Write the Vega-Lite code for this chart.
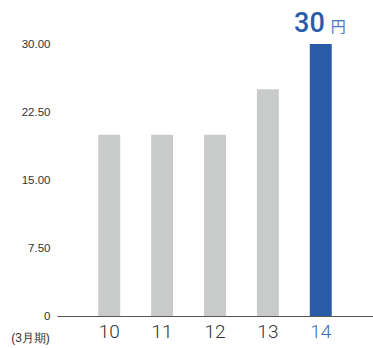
{
  "$schema": "https://vega.github.io/schema/vega-lite/v6.json",
  "width": 316,
  "height": 272,
  "autosize": {"type": "none"},
  "padding": {"left": 57, "top": 44, "right": 0, "bottom": 32},
  "background": "white",
  "config": {"view": {"stroke": null}, "font": "Liberation Sans"},
  "data": {"values": [
    {"year": "10", "value": 20, "hl": "no"},
    {"year": "11", "value": 20, "hl": "no"},
    {"year": "12", "value": 20, "hl": "no"},
    {"year": "13", "value": 25, "hl": "no"},
    {"year": "14", "value": 30, "hl": "yes"}
  ]},
  "encoding": {
    "x": {
      "field": "year", "type": "ordinal", "sort": null,
      "scale": {"paddingInner": 0.585, "paddingOuter": 0.78},
      "axis": {
        "title": "(3月期)",
        "titleFontSize": 12, "titleFontWeight": "normal", "titleColor": "#333333",
        "titleX": -27, "titleY": 25, "titleAlign": "center", "titleBaseline": "alphabetic", "titleAnchor": null,
        "labelAngle": 0, "labelFontSize": 19, "labelFont": "Roboto", "labelFontWeight": 300,
        "labelColor": {"expr": "datum.value == '14' ? '#3d6bb4' : '#333333'"},
        "labelPadding": 6,
        "ticks": false,
        "domainColor": "#555555", "domainWidth": 1
      }
    },
    "y": {
      "field": "value", "type": "quantitative",
      "scale": {"domain": [0, 30], "nice": false},
      "axis": {
        "title": null, "grid": false, "domain": false, "ticks": false,
        "values": [0, 7.5, 15, 22.5, 30],
        "labelExpr": "datum.value == 0 ? '0' : format(datum.value, '.2f')",
        "labelFontSize": 11.5, "labelColor": "#333333", "labelPadding": 7
      }
    }
  },
  "layer": [
    {
      "mark": {"type": "bar"},
      "encoding": {
        "color": {
          "field": "hl", "type": "nominal",
          "scale": {"domain": ["no", "yes"], "range": ["#c9caca", "#2a5ba8"]},
          "legend": null
        }
      }
    },
    {
      "transform": [{"filter": "datum.hl == 'yes'"}],
      "mark": {"type": "text", "align": "right", "baseline": "alphabetic", "dx": 4, "dy": -12, "fontSize": 27, "fontWeight": 500, "font": "Roboto", "color": "#2a5ba8"},
      "encoding": {"text": {"field": "value", "type": "quantitative", "format": "d"}}
    },
    {
      "transform": [{"filter": "datum.hl == 'yes'"}],
      "mark": {"type": "text", "align": "left", "baseline": "alphabetic", "dx": 10, "dy": -12, "fontSize": 15, "font": "Noto Sans CJK JP", "color": "#4a76bd", "text": "円"},
      "encoding": {}
    }
  ]
}
